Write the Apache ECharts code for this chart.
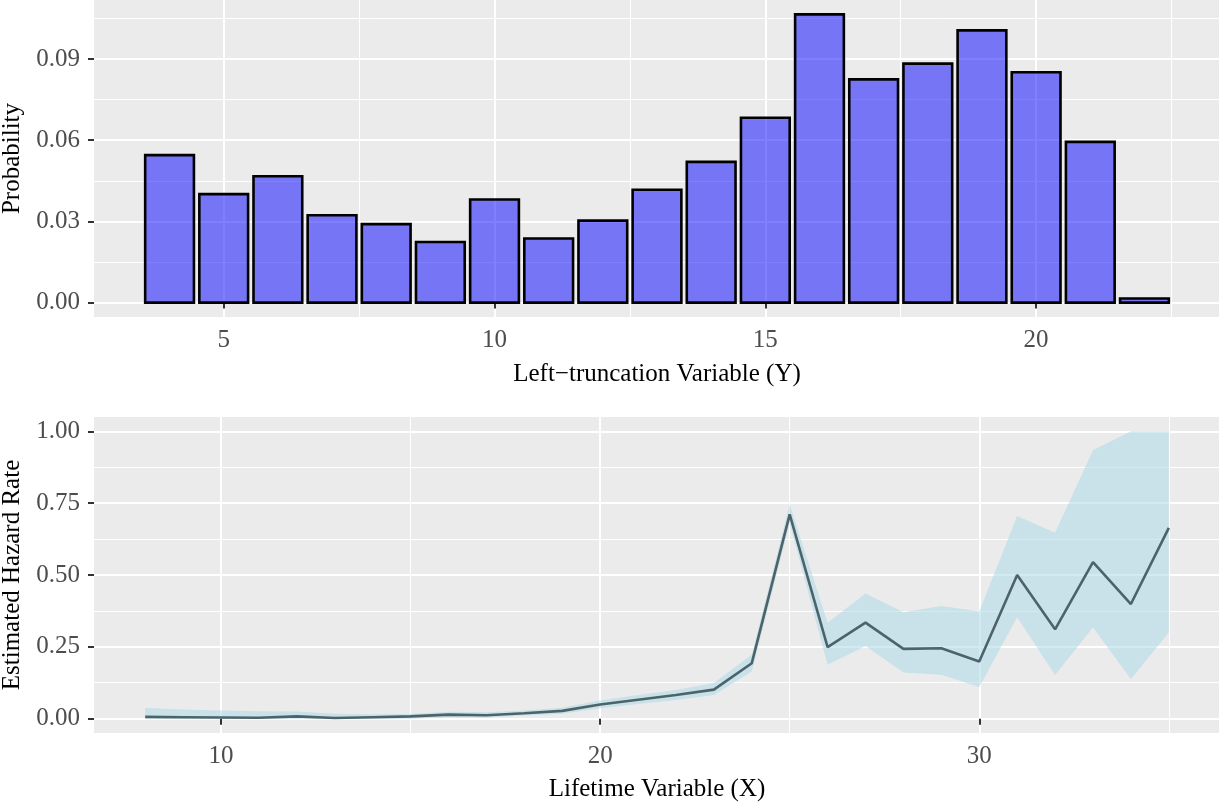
<!DOCTYPE html>
<html>
<head>
<meta charset="utf-8">
<script src="https://cdn.jsdelivr.net/npm/echarts@6/dist/echarts.min.js"></script>
<style>
html,body{margin:0;padding:0;background:#fff;}
#chart{width:1219px;height:802px;}
</style>
</head>
<body>
<div id="chart"></div>
<script>
// ---- Data ----
const truncX = [4,5,6,7,8,9,10,11,12,13,14,15,16,17,18,19,20,21,22];
const truncProb = [0.0545,0.0401,0.0467,0.0323,0.0290,0.0224,0.0381,0.0237,0.0303,0.0417,0.0520,0.0683,0.1065,0.0825,0.0883,0.1006,0.0851,0.0594,0.0015];

const lifeX = [8,9,10,11,12,13,14,15,16,17,18,19,20,21,22,23,24,25,26,27,28,29,30,31,32,33,34,35];
const hazard = [0.006,0.005,0.004,0.003,0.008,0.002,0.005,0.008,0.014,0.012,0.019,0.027,0.049,0.066,0.082,0.101,0.193,0.711,0.249,0.334,0.243,0.245,0.199,0.500,0.311,0.545,0.399,0.664];
const hazardUpper = [0.037,0.032,0.028,0.026,0.025,0.017,0.015,0.016,0.024,0.022,0.028,0.038,0.063,0.082,0.100,0.124,0.222,0.746,0.334,0.436,0.370,0.392,0.373,0.705,0.647,0.934,1.000,1.000];
const hazardLower = [0.000,0.000,0.000,0.000,0.000,0.000,0.000,0.000,0.004,0.004,0.011,0.017,0.036,0.051,0.065,0.082,0.164,0.680,0.188,0.253,0.161,0.153,0.110,0.353,0.152,0.317,0.138,0.300];

// tick labels
const topXTicks = [5,10,15,20];
const topXMinor = [7.5,12.5,17.5,22.5];
const topYTicks = [0,0.03,0.06,0.09];
const topYMinor = [0.015,0.045,0.075,0.105];
const botXTicks = [10,20,30];
const botXMinor = [15,25,35];
const botYTicks = [0,0.25,0.5,0.75,1.0];
const botYMinor = [0.125,0.375,0.625,0.875];

// ---- Scales (ggplot-like 5% expansion) ----
const BAR_W = 0.9;
const tXmin = truncX[0] - BAR_W/2, tXmax = truncX[truncX.length-1] + BAR_W/2;
const tXpad = (tXmax - tXmin) * 0.05;
const tYmax = Math.max(...truncProb);
const bXmin = lifeX[0], bXmax = lifeX[lifeX.length-1];
const bXpad = (bXmax - bXmin) * 0.05;
const bYmin = 0, bYmax = 1;
const bYpad = (bYmax - bYmin) * 0.05;

const FONT = 'Liberation Serif';
const tickLabel = {color:'#4D4D4D', fontFamily:FONT, fontSize:25};
const titleText = {color:'#000', fontFamily:FONT, fontSize:25};

function majorAxis(gridIndex, min, max, ticks, fmt, isX, name, nameGap){
  return {
    type:'value', gridIndex, min, max,
    name, nameLocation:'middle', nameGap, nameTextStyle:titleText,
    axisLine:{show:false},
    axisTick:{show:true, length:6, lineStyle:{color:'#333', width:2}, customValues:ticks},
    axisLabel:Object.assign({show:true, margin: isX ? 11 : 14, customValues:ticks, formatter:fmt}, tickLabel),
    splitLine:{show:true, lineStyle:{color:'#FFFFFF', width:2}},
    minorSplitLine:{show:false}
  };
}
function minorAxis(gridIndex, min, max, ticks){
  return {
    type:'value', gridIndex, min, max,
    axisLine:{show:false},
    axisTick:{show:false, customValues:ticks},
    axisLabel:{show:false, customValues:ticks},
    splitLine:{show:true, lineStyle:{color:'#FFFFFF', width:1}}
  };
}

const chart = echarts.init(document.getElementById('chart'), null, {renderer:'canvas'});
const option = {
  animation:false,
  backgroundColor:'#FFFFFF',
  grid:[
    {left:94, top:0, width:1126, height:317, show:true, backgroundColor:'#EBEBEB', borderWidth:0, containLabel:false, outerBoundsMode:'none'},
    {left:94, top:417, width:1126, height:316, show:true, backgroundColor:'#EBEBEB', borderWidth:0, containLabel:false, outerBoundsMode:'none'}
  ],
  xAxis:[
    majorAxis(0, tXmin - tXpad, tXmax + tXpad, topXTicks, v => String(v), true, 'Left\u2212truncation Variable (Y)', 45),
    minorAxis(0, tXmin - tXpad, tXmax + tXpad, topXMinor),
    majorAxis(1, bXmin - bXpad, bXmax + bXpad, botXTicks, v => String(v), true, 'Lifetime Variable (X)', 44),
    minorAxis(1, bXmin - bXpad, bXmax + bXpad, botXMinor)
  ],
  yAxis:[
    majorAxis(0, -0.05*tYmax, 1.05*tYmax, topYTicks, v => v.toFixed(2), false, 'Probability', 68),
    minorAxis(0, -0.05*tYmax, 1.05*tYmax, topYMinor),
    majorAxis(1, bYmin - bYpad, bYmax + bYpad, botYTicks, v => v.toFixed(2), false, 'Estimated Hazard Rate', 68),
    minorAxis(1, bYmin - bYpad, bYmax + bYpad, botYMinor)
  ],
  series:[
    {
      type:'custom', xAxisIndex:0, yAxisIndex:0, z:5,
      data: truncX.map((x,i) => [x, truncProb[i]]),
      encode:{x:0, y:1},
      renderItem:function(params, api){
        const x = api.value(0), y = api.value(1);
        const p0 = api.coord([x - BAR_W/2, y]);
        const p1 = api.coord([x + BAR_W/2, 0]);
        return {
          type:'rect',
          shape:{x:p0[0], y:p0[1], width:p1[0]-p0[0], height:p1[1]-p0[1]},
          style:{fill:'rgba(0,0,255,0.5)', stroke:'#000000', lineWidth:2.6}
        };
      }
    },
    {
      type:'custom', xAxisIndex:2, yAxisIndex:2, z:3, silent:true,
      data: lifeX.map((x,i) => [x, hazardLower[i], hazardUpper[i]]),
      encode:{x:0, y:[1,2]},
      renderItem:function(params, api){
        if (params.dataIndex !== 0) return {type:'group', children:[]};
        const pts = [];
        for (let i = 0; i < lifeX.length; i++) pts.push(api.coord([lifeX[i], hazardUpper[i]]));
        for (let i = lifeX.length - 1; i >= 0; i--) pts.push(api.coord([lifeX[i], hazardLower[i]]));
        return {type:'polygon', shape:{points:pts}, style:{fill:'rgba(173,216,230,0.55)'}};
      }
    },
    {
      type:'line', xAxisIndex:2, yAxisIndex:2, z:6,
      data: lifeX.map((x,i) => [x, hazard[i]]),
      showSymbol:false, symbol:'none',
      lineStyle:{color:'#4C6369', width:2.6}
    }
  ]
};
chart.setOption(option);
</script>
</body>
</html>
